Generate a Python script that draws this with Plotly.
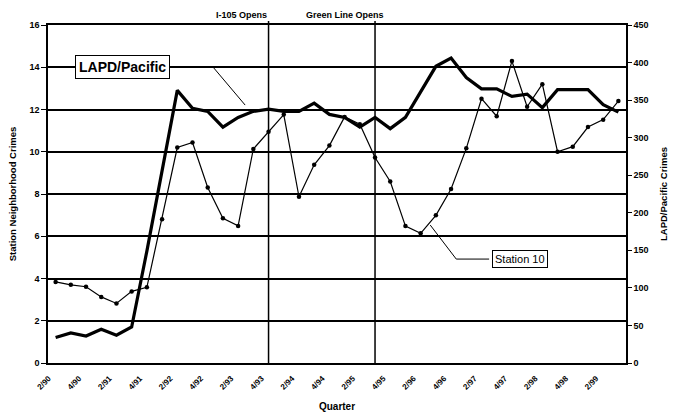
import plotly.graph_objects as go

quarters = ["2/90","3/90","4/90","1/91","2/91","3/91","4/91","1/92","2/92","3/92",
            "4/92","1/93","2/93","3/93","4/93","1/94","2/94","3/94","4/94","1/95",
            "2/95","3/95","4/95","1/96","2/96","3/96","4/96","1/97","2/97","3/97",
            "4/97","1/98","2/98","3/98","4/98","1/99","2/99","3/99"]

station10 = [3.84,3.70,3.61,3.13,2.82,3.39,3.58,6.81,10.2,10.44,
             8.31,6.85,6.49,10.13,10.95,11.76,7.87,9.38,10.29,11.65,
             11.3,9.73,8.59,6.48,6.14,6.99,8.24,10.16,12.51,11.68,
             14.29,12.13,13.2,10.0,10.24,11.17,11.52,12.4]

lapd = [34,40,36,45,37,48,149,256,363,339,
        335,314,327,335,338,335,335,346,331,327,
        314,327,312,327,361,395,406,380,365,365,
        355,358,340,364,364,364,344,334]

tick_vals = quarters[0::2]
tick_text = ["2/90","4/90","2/91","4/91","2/92","4/92","2/93","4/93","2/94","4/94",
             "2/95","4/95","2/96","4/96","2/97","4/97","2/98","4/98","2/99"]

events = [("4/93", "I-105 Opens"), ("3/95", "Green Line Opens")]

left_range = [0, 16]
right_range = [0, 450]

FONT = "Arial"
fig = go.Figure()

fig.add_trace(go.Scatter(x=quarters, y=station10, name="Station 10", mode="lines+markers",
                         line=dict(color="black", width=1.2),
                         marker=dict(color="black", size=4.5), yaxis="y"))
fig.add_trace(go.Scatter(x=quarters, y=lapd, name="LAPD/Pacific", mode="lines",
                         line=dict(color="black", width=3.2), yaxis="y2"))

idx = {q: i for i, q in enumerate(quarters)}
for q, label in events:
    fig.add_shape(type="line", xref="x", yref="paper", x0=idx[q], x1=idx[q],
                  y0=0, y1=1.012, line=dict(color="black", width=1.5))

fig.add_annotation(x=idx["4/93"], y=1, xref="x", yref="paper", xanchor="right",
                   yanchor="middle", yshift=10, showarrow=False, text="I-105 Opens",
                   font=dict(family=FONT, size=9, color="black", weight="bold"))
fig.add_annotation(x=idx["3/95"], y=1, xref="x", yref="paper", xanchor="right",
                   xshift=11, yanchor="middle", yshift=10, showarrow=False,
                   text="Green Line Opens",
                   font=dict(family=FONT, size=9, color="black", weight="bold"))

# callout leaders
fig.add_shape(type="path", xref="x", yref="y",
              path="M 7.7,14 L 10.36,14 L 12.46,12.21", line=dict(color="black", width=1))
fig.add_shape(type="path", xref="x", yref="y",
              path="M 24.63,6.53 L 26.34,4.92 L 28.5,4.92", line=dict(color="black", width=1))

fig.add_annotation(x=4.43, y=14, xref="x", yref="y", showarrow=False,
                   text="LAPD/Pacific", bgcolor="white", bordercolor="black", borderwidth=1,
                   borderpad=3, font=dict(family=FONT, size=14, color="black", weight="bold"))
fig.add_annotation(x=30.52, y=4.92, xref="x", yref="y", showarrow=False,
                   text="Station 10", bgcolor="white", bordercolor="black", borderwidth=1,
                   borderpad=2, font=dict(family=FONT, size=11, color="black"))

fig.update_layout(
    width=681, height=419,
    margin=dict(l=48, r=55, t=25, b=56),
    paper_bgcolor="white", plot_bgcolor="white",
    showlegend=False,
    font=dict(family=FONT, color="black"),
    xaxis=dict(type="category", tickmode="array", tickvals=tick_vals, ticktext=tick_text,
               tickangle=-45, tickfont=dict(size=8, weight="bold"), ticklabelshift=-7,
               ticklabelstandoff=6,
               showgrid=False, showline=True, linecolor="black", linewidth=1.5,
               mirror=True, ticks="", range=[-0.5, len(quarters) - 0.5], automargin=False,
               title=dict(text="Quarter", font=dict(size=10, weight="bold"), standoff=12)),
    yaxis=dict(range=left_range, dtick=2, showgrid=True, gridcolor="black", gridwidth=1.5,
               showline=True, linecolor="black", linewidth=1.5, ticks="outside",
               ticklen=5, tickcolor="black", zeroline=False, automargin=False,
               tickfont=dict(size=9, weight="bold"),
               title=dict(text="Station Neighborhood Crimes",
                          font=dict(size=9.5, weight="bold"), standoff=11)),
    yaxis2=dict(range=right_range, dtick=50, overlaying="y", side="right", showgrid=False,
                showline=True, linecolor="black", linewidth=1.5, ticks="outside",
                ticklen=4, tickcolor="black", zeroline=False, automargin=False,
                tickfont=dict(size=9, weight="bold"),
                title=dict(text="LAPD/Pacific Crimes",
                           font=dict(size=9.5, weight="bold"), standoff=13)),
)

fig.write_html("out.html", config={"displayModeBar": False},
               post_script="document.body.style.margin='0';document.body.style.overflow='hidden';")
